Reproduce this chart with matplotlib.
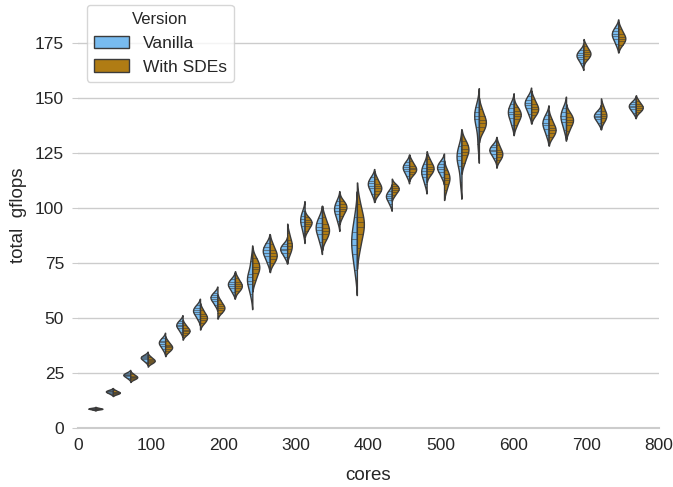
import numpy as np
import matplotlib
matplotlib.use("Agg")
import matplotlib.pyplot as plt
from matplotlib.patches import Patch

plt.rcParams['font.family'] = ['Liberation Sans', 'DejaVu Sans']

cores = [24, 48, 72, 96, 120, 144, 168, 192, 216, 240, 264, 288, 312, 336, 360, 384,
         408, 432, 456, 480, 504, 528, 552, 576, 600, 624, 648, 672, 696, 720, 744, 768]

vanilla = [
    [8.38, 8.64, 8.77, 8.86, 8.99, 9.15],
    [15.54, 16.13, 16.43, 16.65, 16.94, 17.31],
    [22.64, 23.48, 23.9, 24.21, 24.63, 25.16],
    [30.16, 31.17, 31.67, 32.05, 32.56, 33.19],
    [35.77, 37.45, 38.29, 38.92, 39.76, 40.81],
    [43.77, 45.45, 46.29, 46.92, 47.76, 48.81],
    [49.72, 51.74, 52.75, 53.5, 54.51, 55.77],
    [56.0, 57.85, 58.77, 59.46, 60.39, 61.54],
    [61.72, 63.74, 64.75, 65.5, 66.51, 67.77],
    [61.0, 65.5, 67.0, 68.5, 70.0, 76.0],
    [75.36, 78.21, 79.64, 80.71, 82.14, 83.93],
    [77.72, 79.74, 80.75, 81.5, 82.51, 83.77],
    [88.8, 92.0, 93.6, 94.8, 96.4, 98.4],
    [84.52, 88.2, 90.04, 91.42, 93.26, 95.56],
    [94.06, 97.1, 98.62, 99.76, 101.28, 103.18],
    [72.0, 79.0, 83.0, 86.0, 89.0, 96.0],
    [106.41, 108.93, 110.19, 111.13, 112.39, 113.97],
    [101.72, 103.74, 104.75, 105.5, 106.51, 107.77],
    [114.45, 116.64, 117.73, 118.55, 119.64, 121.0],
    [111.09, 114.11, 115.62, 116.76, 118.27, 120.16],
    [114.18, 116.53, 117.71, 118.59, 119.76, 121.23],
    [112.0, 119.0, 122.0, 123.5, 125.0, 128.0],
    [129.0, 137.0, 140.5, 142.0, 143.5, 146.0],
    [122.72, 124.74, 125.75, 126.5, 127.51, 128.77],
    [137.8, 141.0, 142.6, 143.8, 145.4, 147.4],
    [142.63, 145.32, 146.66, 147.67, 149.02, 150.7],
    [133.09, 136.11, 137.62, 138.76, 140.27, 142.16],
    [135.54, 138.9, 140.58, 141.84, 143.52, 145.62],
    [165.72, 167.74, 168.75, 169.5, 170.51, 171.77],
    [138.5, 140.35, 141.27, 141.96, 142.89, 144.04],
    [174.41, 176.93, 178.19, 179.13, 180.39, 181.97],
    [143.27, 144.95, 145.79, 146.42, 147.26, 148.31],
]

with_sdes = [
    [8.45, 8.61, 8.74, 8.83, 8.96, 9.22],
    [15.39, 15.76, 16.05, 16.27, 16.57, 17.16],
    [22.15, 22.67, 23.09, 23.41, 23.83, 24.67],
    [29.41, 30.04, 30.55, 30.93, 31.43, 32.44],
    [34.91, 35.86, 36.62, 37.19, 37.95, 39.47],
    [42.41, 43.36, 44.12, 44.69, 45.45, 46.97],
    [47.73, 48.99, 50.0, 50.75, 51.76, 53.78],
    [52.46, 53.61, 54.54, 55.23, 56.16, 58.0],
    [62.23, 63.49, 64.5, 65.25, 66.26, 68.28],
    [67.04, 70.4, 72.08, 73.34, 75.02, 77.12],
    [75.07, 76.86, 78.29, 79.36, 80.79, 83.64],
    [79.34, 81.23, 82.74, 83.88, 85.39, 88.41],
    [89.72, 91.74, 92.75, 93.5, 94.51, 95.77],
    [85.88, 87.98, 89.66, 90.92, 92.6, 95.96],
    [96.18, 98.53, 99.71, 100.59, 101.76, 103.23],
    [82.0, 88.0, 91.5, 93.5, 96.0, 102.0],
    [106.27, 107.74, 108.91, 109.79, 110.97, 113.32],
    [105.77, 107.45, 108.29, 108.92, 109.76, 110.81],
    [115.23, 116.49, 117.5, 118.25, 119.26, 121.28],
    [115.27, 116.74, 117.91, 118.79, 119.97, 122.32],
    [108.09, 111.11, 112.62, 113.76, 115.27, 117.16],
    [120.54, 123.9, 125.58, 126.84, 128.52, 130.62],
    [134.88, 136.98, 138.66, 139.92, 141.6, 144.96],
    [121.77, 123.24, 124.41, 125.29, 126.47, 128.82],
    [137.63, 140.32, 141.66, 142.67, 144.02, 145.7],
    [142.04, 143.61, 144.87, 145.82, 147.08, 149.6],
    [132.3, 133.98, 135.33, 136.34, 137.68, 140.37],
    [135.13, 137.82, 139.16, 140.17, 141.52, 143.2],
    [167.73, 168.99, 170.0, 170.75, 171.76, 173.78],
    [139.27, 140.74, 141.91, 142.79, 143.97, 146.32],
    [174.27, 175.74, 176.91, 177.79, 178.97, 181.32],
    [143.69, 144.74, 145.58, 146.21, 147.05, 148.73],
]

versions = ["Vanilla", "With SDEs"]
colors = ["#78bbef", "#b07c14"]
line_gray = "#3b3b3b"


def kde_curve(data, cut=2, gridsize=100):
    data = np.asarray(data, float)
    n = len(data)
    bw = data.std(ddof=1) * n ** (-1 / 5)
    grid = np.linspace(data.min() - cut * bw, data.max() + cut * bw, gridsize)
    z = (grid[:, None] - data[None, :]) / bw
    dens = np.exp(-0.5 * z ** 2).sum(1) / (n * bw * np.sqrt(2 * np.pi))
    return grid, dens, bw


def dens_at(data, bw, vals):
    data = np.asarray(data, float)
    z = (np.asarray(vals)[:, None] - data[None, :]) / bw
    return np.exp(-0.5 * z ** 2).sum(1) / (len(data) * bw * np.sqrt(2 * np.pi))


fig = plt.figure(figsize=(6.73, 4.87), dpi=100)
ax = fig.add_axes([0.1159, 0.1211, 0.8633, 0.8748])

half_width = 0.4 * 24
for pos, v, s in zip(cores, vanilla, with_sdes):
    gv, dv, bv = kde_curve(v)
    gs, ds, bs = kde_curve(s)
    scale = half_width / max(dv.max(), ds.max())
    ax.fill_betweenx(gv, pos - dv * scale, pos, facecolor=colors[0],
                     edgecolor=line_gray, linewidth=1.0, zorder=2)
    ax.fill_betweenx(gs, pos, pos + ds * scale, facecolor=colors[1],
                     edgecolor=line_gray, linewidth=1.0, zorder=2)
    for val, d in zip(v, dens_at(v, bv, v)):
        ax.plot([pos, pos - d * scale], [val, val], color=line_gray,
                linewidth=0.5, alpha=0.8, zorder=3)
    for val, d in zip(s, dens_at(s, bs, s)):
        ax.plot([pos, pos + d * scale], [val, val], color=line_gray,
                linewidth=0.5, alpha=0.8, zorder=3)

ax.set_xlim(0, 800)
ax.set_ylim(0, 193.6)
ax.set_xticks(range(0, 801, 100))
ax.set_yticks(range(0, 176, 25))
ax.yaxis.grid(True, color="#cccccc", linewidth=1.0, zorder=0)
ax.xaxis.grid(False)
ax.set_axisbelow(True)
for side in ["left", "top", "right"]:
    ax.spines[side].set_visible(False)
ax.spines["bottom"].set_color("#cccccc")
ax.spines["bottom"].set_linewidth(1.5)
ax.tick_params(axis="y", length=4, color="#cccccc", labelsize=12.5, labelcolor="#262626", pad=6)
ax.tick_params(axis="x", length=0, labelsize=12.5, labelcolor="#262626", pad=7)
ax.set_xlabel("cores", fontsize=13.5, color="#262626", labelpad=10)
ax.set_ylabel("total  gflops", fontsize=13.5, color="#262626", labelpad=6)

handles = [Patch(facecolor=colors[i], edgecolor=line_gray, linewidth=1.0, label=versions[i])
           for i in range(2)]
leg = ax.legend(handles=handles, title="Version", loc="upper left", fontsize=12.5,
                title_fontsize=12, frameon=True, borderaxespad=0,
                bbox_to_anchor=(0.0155, 0.993))
leg.get_frame().set_edgecolor("#cccccc")
leg.get_title().set_color("#262626")
for t in leg.get_texts():
    t.set_color("#262626")

fig.savefig("out.png", dpi=100)
